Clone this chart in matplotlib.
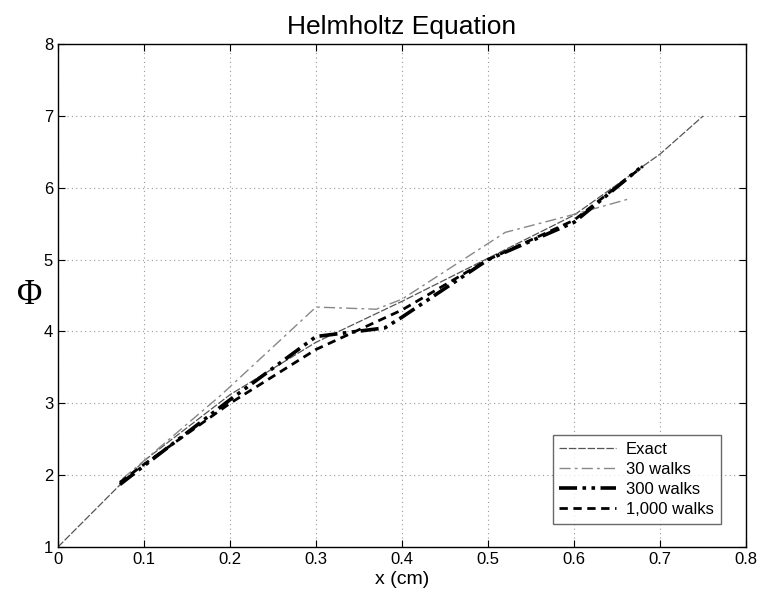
import matplotlib
matplotlib.use('Agg')
import matplotlib.pyplot as plt

plt.rcParams['font.family'] = ['Liberation Sans', 'DejaVu Sans']

# readings from the reference
x_exact = [0.0, 0.1, 0.2, 0.3, 0.4, 0.5, 0.6, 0.7, 0.75]
phi_exact = [1.0, 2.2, 3.12, 3.85, 4.42, 5.02, 5.62, 6.47, 7.0]

x_30 = [0.075, 0.1, 0.19, 0.3, 0.37, 0.4, 0.52, 0.6, 0.665]
phi_30 = [1.95, 2.2, 3.12, 4.34, 4.31, 4.45, 5.38, 5.63, 5.85]

x_300 = [0.072, 0.1, 0.2, 0.3, 0.38, 0.4, 0.5, 0.6, 0.677]
phi_300 = [1.87, 2.13, 3.05, 3.93, 4.05, 4.2, 5.0, 5.52, 6.28]

x_1000 = [0.072, 0.1, 0.2, 0.3, 0.4, 0.5, 0.6, 0.68]
phi_1000 = [1.9, 2.15, 3.0, 3.75, 4.3, 5.0, 5.55, 6.3]

x_ticks = [0, 0.1, 0.2, 0.3, 0.4, 0.5, 0.6, 0.7, 0.8]
y_ticks = [1, 2, 3, 4, 5, 6, 7, 8]

fig = plt.figure(figsize=(7.59, 5.97), dpi=100)
ax = fig.add_axes([0.0764, 0.0838, 0.9066, 0.8422])

ax.plot(x_exact, phi_exact, color='#555555', lw=0.9, ls=(0, (6, 1.5)), label='Exact')
ax.plot(x_30, phi_30, color='#888888', lw=1.0, ls=(0, (8, 3, 2, 3)), label='30 walks')
ax.plot(x_300, phi_300, color='black', lw=2.6, ls=(0, (5, 1.5, 1, 1.5, 1, 1.5)), label='300 walks')
ax.plot(x_1000, phi_1000, color='black', lw=2.0, ls=(0, (3, 2)), label='1,000 walks')

ax.set_xlim(0, 0.8)
ax.set_ylim(1, 8)
ax.set_xticks(x_ticks)
ax.set_xticklabels(['0', '0.1', '0.2', '0.3', '0.4', '0.5', '0.6', '0.7', '0.8'])
ax.set_yticks(y_ticks)
ax.grid(True, color='#999999', ls=(0, (1, 3)), lw=0.8)
ax.tick_params(direction='in', top=True, right=True, labelsize=12, length=5)
for s in ax.spines.values():
    s.set_linewidth(1.0)

ax.set_title('Helmholtz Equation', fontsize=19, pad=7)
ax.set_xlabel('x (cm)', fontsize=14, labelpad=3)
ax.set_ylabel('\u03a6', fontsize=25, family=['Liberation Serif', 'DejaVu Serif'],
              rotation=0, labelpad=10, va='center')

leg = ax.legend(loc='lower right', bbox_to_anchor=(0.975, 0.03), fontsize=12,
                frameon=True, fancybox=False, edgecolor='#444444',
                handlelength=3.4, borderpad=0.4, labelspacing=0.3,
                handletextpad=0.6)
leg.get_frame().set_linewidth(1.0)

fig.savefig('out.png', dpi=100)
